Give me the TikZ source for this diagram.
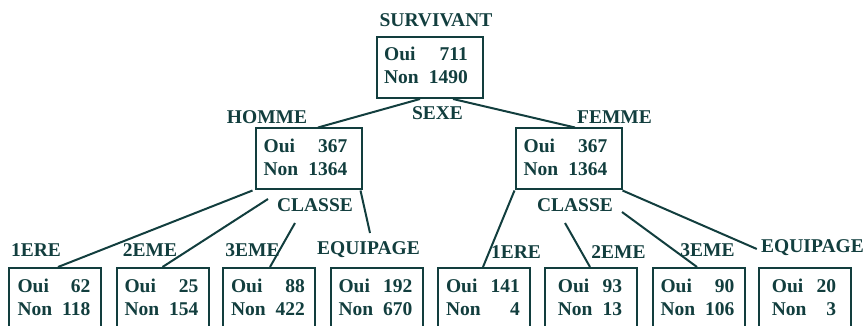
\documentclass[tikz,border=0pt]{standalone}
\usepackage{fontspec}
\setmainfont{Liberation Serif}
\definecolor{ink}{RGB}{18,62,62}
\newcommand{\cnts}[2]{\begin{tabular}{@{}l@{\hskip 5pt}r@{}}Oui&#1\\Non&#2\end{tabular}}
\begin{document}
\begin{tikzpicture}[x=0.5pt,y=-0.5pt,
  every node/.style={text=ink,font=\fontsize{9.75}{11.5}\selectfont\bfseries},
  cbox/.style={draw=ink,line width=1pt,inner sep=0pt,minimum width=53pt,minimum height=30.5pt},
  lbox/.style={draw=ink,line width=1pt,inner sep=0pt,minimum width=46pt,minimum height=31pt},
  lab/.style={inner sep=0pt},
  edge/.style={draw=ink,line width=1pt}]
\useasboundingbox (0,0) rectangle (868,326);
\clip (0,0) rectangle (868,326);
% top
\node[lab] (survivant) at (436,20) {SURVIVANT};
\node[cbox] (root) at (430,67.5) {\cnts{711}{1490}\kern 4pt};
\node[lab] (sexe) at (437.5,113) {SEXE};
\node[lab] (homme) at (267,117) {HOMME};
\node[lab] (femme) at (614.5,117) {FEMME};
\node[cbox] (hbox) at (308.5,159) {\cnts{367}{1364}\kern 3pt};
\node[cbox] (fbox) at (568.5,159) {\cnts{367}{1364}\kern 3pt};
\node[lab] (classeL) at (315,205) {CLASSE};
\node[lab] (classeR) at (575,205) {CLASSE};
% bottom labels
\node[lab] (l1) at (36,250) {1ERE};
\node[lab] (l2) at (150,250) {2EME};
\node[lab] (l3) at (252.5,250) {3EME};
\node[lab] (l4) at (368.5,250) {EQUIPAGE};
\node[lab] (r1) at (516,252) {1ERE};
\node[lab] (r2) at (618.5,252) {2EME};
\node[lab] (r3) at (707.5,250) {3EME};
\node[lab] (r4) at (812.5,248) {EQUIPAGE};
% bottom boxes
\node[lbox,anchor=north] (b1) at (55,267) {\raisebox{3pt}{\cnts{62}{118}}\kern 1pt};
\node[lbox,anchor=north] (b2) at (162.5,267) {\raisebox{3pt}{\cnts{25}{154}}\kern 1pt};
\node[lbox,anchor=north] (b3) at (269,267) {\raisebox{3pt}{\cnts{88}{422}}\kern 1pt};
\node[lbox,anchor=north] (b4) at (376.5,267) {\raisebox{3pt}{\cnts{192}{670}}\kern 1pt};
\node[lbox,anchor=north] (b5) at (484,267) {\raisebox{3pt}{\cnts{141}{4}}\kern 1pt};
\node[lbox,anchor=north] (b6) at (591,267) {\raisebox{3pt}{\cnts{93}{13}}\kern 1pt};
\node[lbox,anchor=north] (b7) at (698.5,267) {\raisebox{3pt}{\cnts{90}{106}}\kern 1pt};
\node[lbox,anchor=north] (b8) at (805,267) {\raisebox{3pt}{\cnts{20}{3}}\kern 1pt};
% free ends
\coordinate (cl2) at (268,199);
\coordinate (cl3) at (295,223);
\coordinate (eqL) at (370,233);
\coordinate (cr2) at (565,223);
\coordinate (cr3) at (622,212);
% edges
\draw[edge] ([xshift=-5pt]root.south) -- ([xshift=4.75pt]hbox.north);
\draw[edge] ([xshift=11.5pt]root.south) -- ([xshift=3.25pt]fbox.north);
\draw[edge] ([xshift=-1pt]hbox.south west) -- ([xshift=1.5pt]b1.north);
\draw[edge] (cl2) -- (b2.north);
\draw[edge] (cl3) -- ([xshift=0.5pt]b3.north);
\draw[edge] ([xshift=-1pt]hbox.south east) -- (eqL);
\draw[edge] (fbox.south west) -- ([xshift=-0.5pt]b5.north);
\draw[edge] (cr2) -- ([xshift=-0.5pt]b6.north);
\draw[edge] (cr3) -- ([xshift=-0.75pt]b7.north);
\draw[edge] (fbox.south east) -- ([xshift=-2pt,yshift=-0.5pt]r4.west);
\end{tikzpicture}
\end{document}
